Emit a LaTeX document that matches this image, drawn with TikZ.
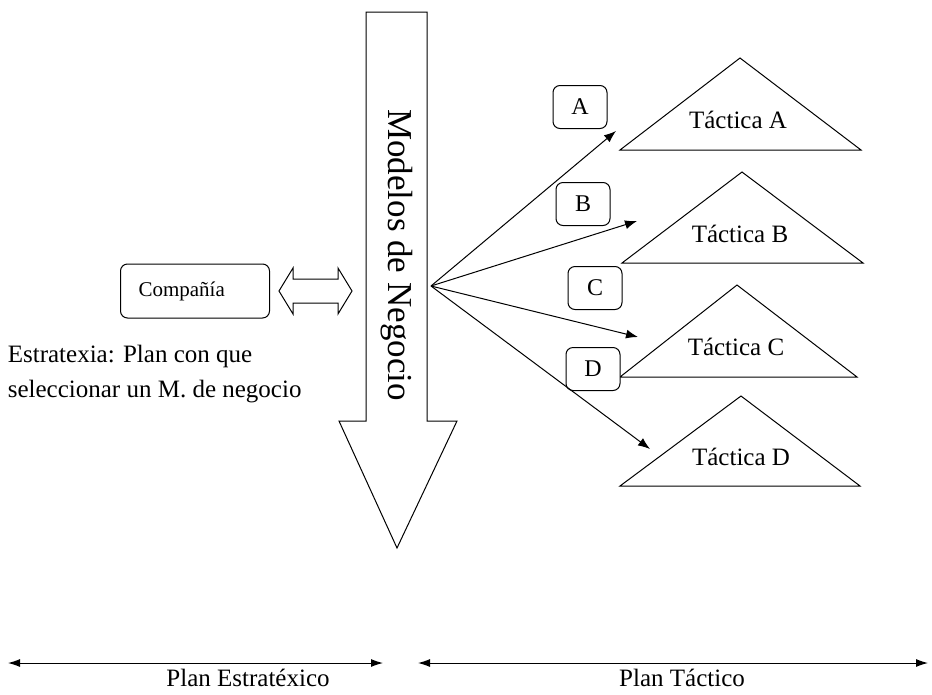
\documentclass[tikz,border=0pt]{standalone}
\usepackage{fontspec}
\setmainfont{Liberation Serif}
\usetikzlibrary{arrows.meta, positioning}

\tikzset{
  caixa/.style={draw, rounded corners=7pt, fill=white, line width=1pt},
  letra/.style={caixa, minimum width=54pt, minimum height=43pt, font=\fontsize{24}{28}\selectfont},
  frecha/.style={-{Latex[length=12pt,width=9pt]}, line width=1pt},
  texto/.style={font=\fontsize{25}{30}\selectfont}
}

\begin{document}
\begin{tikzpicture}[x=1pt, y=-1pt, line width=1pt, line join=miter]
	\useasboundingbox (0,0) rectangle (932,694);

	% frecha grande
	\draw (366,12) -- (427,12) -- (427,421) -- (457,421) -- (397,548)
		-- (339,421) -- (366,421) -- cycle;
	\node[rotate=-90, font=\fontsize{35}{40}\selectfont] (modelos) at (397,255) {Modelos de Negocio};

	% compania
	\node[caixa, minimum height=54pt, text width=113pt, inner xsep=18pt, align=left,
		font=\fontsize{21}{25}\selectfont] (compania) at (195,291) {Compañía};
	\draw (279,291) -- (293,268) -- (293,279) -- (338,279) -- (338,268) -- (352,291)
		-- (338,314) -- (338,303) -- (293,303) -- (293,314) -- cycle;

	\node[texto, font=\fontsize{25}{35}\selectfont, align=left, anchor=west] (estratexia)
		at (4,374) {Estratexia: Plan con que\\seleccionar un M. de negocio};

	% tacticas
	\draw (620,150) -- (740,58) -- (861,150) -- cycle;
	\node[texto] (tacA) at (738,120) {Táctica A};
	\draw (622,263) -- (742,172) -- (863,263) -- cycle;
	\node[texto] (tacB) at (740,234) {Táctica B};
	\draw (620,377) -- (737,285) -- (857,377) -- cycle;
	\node[texto] (tacC) at (736,347) {Táctica C};
	\draw (620,486) -- (741,396) -- (860,486) -- cycle;
	\node[texto] (tacD) at (741,457) {Táctica D};

	% letras
	\node[letra] (A) at (580,107) {A};
	\node[letra] (B) at (583,204) {B};
	\node[letra] (C) at (595,288) {C};
	\node[letra] (D) at (593,369) {D};

	% abanico
	\coordinate (fan) at (431,286);
	\coordinate (finA) at (616,131);
	\coordinate (finB) at (637,221);
	\coordinate (finC) at (638,337);
	\coordinate (finD) at (650,449);
	\draw[frecha] (fan) -- (finA);
	\draw[frecha] (fan) -- (finB);
	\draw[frecha] (fan) -- (finC);
	\draw[frecha] (fan) -- (finD);

	% parte inferior
	\coordinate (e1) at (8,663);
	\coordinate (e2) at (383,663);
	\coordinate (t1) at (418,663);
	\coordinate (t2) at (928,663);
	\draw[{Latex[length=12pt,width=8pt]}-{Latex[length=12pt,width=8pt]}] (e1) -- (e2);
	\draw[{Latex[length=12pt,width=8pt]}-{Latex[length=12pt,width=8pt]}] (t1) -- (t2);
	\node[texto, inner sep=1pt] (planE) at (248,678) {Plan Estratéxico};
	\node[texto, inner sep=1pt] (planT) at (682,678) {Plan Táctico};
\end{tikzpicture}
\end{document}
